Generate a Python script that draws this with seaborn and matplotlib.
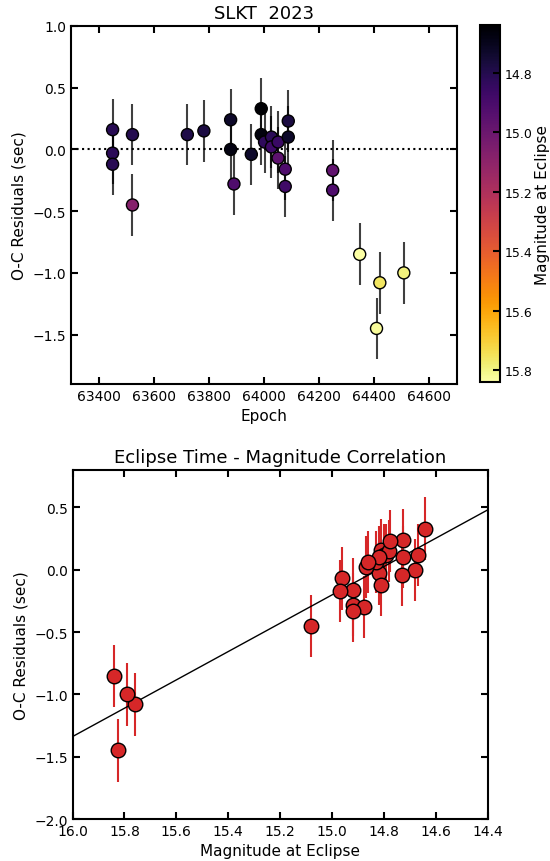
import numpy as np
import pandas as pd
import seaborn as sns
import matplotlib.pyplot as plt
from matplotlib.colors import Normalize
from matplotlib.cm import ScalarMappable

# eclipse data
epoch = [63451, 63451, 63451, 63523, 63722, 63782, 63879, 63879, 63891, 63954,
         63990, 63990, 64002, 64027, 64027, 64051, 64051, 64077, 64077, 64088,
         64088, 64249, 64249, 63523, 64347, 64408, 64420, 64507]
oc_resid = [0.16, -0.03, -0.12, 0.12, 0.12, 0.15, 0.24, 0.00, -0.28, -0.04,
            0.33, 0.12, 0.06, 0.10, 0.02, 0.06, -0.07, -0.16, -0.30, 0.23,
            0.10, -0.17, -0.33, -0.45, -0.85, -1.45, -1.08, -1.00]
oc_err = [0.25, 0.25, 0.25, 0.25, 0.25, 0.25, 0.25, 0.25, 0.25, 0.25,
          0.25, 0.25, 0.25, 0.25, 0.25, 0.25, 0.25, 0.25, 0.25, 0.25,
          0.25, 0.25, 0.25, 0.25, 0.25, 0.25, 0.25, 0.25]
magnitude = [14.81, 14.82, 14.81, 14.80, 14.79, 14.78, 14.725, 14.68, 14.92, 14.73,
             14.64, 14.67, 14.83, 14.82, 14.87, 14.86, 14.96, 14.92, 14.875, 14.775,
             14.725, 14.97, 14.92, 15.08, 15.84, 15.825, 15.76, 15.79]

df = pd.DataFrame({'Epoch': epoch, 'OC': oc_resid, 'Err': oc_err, 'Mag': magnitude})

plt.rcParams['font.family'] = 'DejaVu Sans'
plt.rcParams['axes.linewidth'] = 1.5

fig = plt.figure(figsize=(5.5, 8.62), dpi=100)
ax1 = fig.add_axes([0.129, 0.5534, 0.702, 0.4153])
cax = fig.add_axes([0.873, 0.5557, 0.036, 0.414])
ax2 = fig.add_axes([0.132, 0.0487, 0.7545, 0.4049])

norm = Normalize(vmin=df['Mag'].min(), vmax=df['Mag'].max())

# top: O-C vs epoch, coloured by magnitude
ax1.axhline(0, color='k', ls=':', lw=1.5, zorder=1)
ax1.errorbar(df['Epoch'], df['OC'], yerr=df['Err'], fmt='none',
             ecolor='k', alpha=0.75, elinewidth=1.5, zorder=2)
sns.scatterplot(data=df, x='Epoch', y='OC', hue='Mag', palette='inferno',
                hue_norm=norm, s=75, edgecolor='k', linewidth=1,
                legend=False, ax=ax1, zorder=3)
ax1.set_xlim(63300, 64700)
ax1.set_ylim(-1.9, 1.0)
ax1.set_title('SLKT  2023', fontsize=13)
ax1.set_xlabel('Epoch', fontsize=11)
ax1.set_ylabel('O-C Residuals (sec)', fontsize=11)

cb = fig.colorbar(ScalarMappable(norm=norm, cmap='inferno'), cax=cax)
cb.ax.invert_yaxis()
cb.outline.set_linewidth(1.5)
cb.ax.tick_params(direction='in', length=5, width=1.5, labelsize=9)
cb.set_label('Magnitude at Eclipse', fontsize=11, labelpad=2)

# bottom: O-C vs magnitude with linear fit
ax2.set_xlim(16.0, 14.4)
ax2.set_ylim(-2.0, 0.8)
ax2.errorbar(df['Mag'], df['OC'], yerr=df['Err'], fmt='none',
             ecolor='#d62728', elinewidth=1.5, zorder=2)
sns.regplot(data=df, x='Mag', y='OC', scatter=False, ci=None, truncate=False,
            line_kws={'color': 'k', 'lw': 1}, ax=ax2)
sns.scatterplot(data=df, x='Mag', y='OC', color='#d62728', s=110,
                edgecolor='k', linewidth=1, ax=ax2, zorder=3)
ax2.set_xlim(16.0, 14.4)
ax2.set_ylim(-2.0, 0.8)
ax2.set_title('Eclipse Time - Magnitude Correlation', fontsize=13)
ax2.set_xlabel('Magnitude at Eclipse', fontsize=11)
ax2.set_ylabel('O-C Residuals (sec)', fontsize=11)

for ax in (ax1, ax2):
    ax.tick_params(direction='in', top=True, right=True, length=5,
                   width=1.5, labelsize=10)

fig.savefig('out.png', dpi=100)
